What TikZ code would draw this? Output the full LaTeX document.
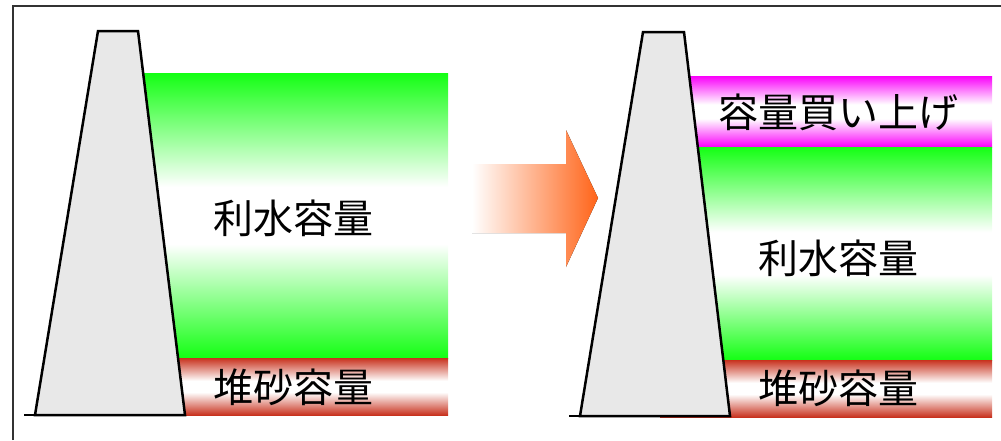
\documentclass[tikz,border=0pt]{standalone}
\usepackage{fontspec}
\usepackage{tikz}
\usetikzlibrary{positioning}
\newfontfamily\jp{Noto Sans CJK JP}
\definecolor{water}{RGB}{20,255,20}
\definecolor{sand}{RGB}{200,50,30}
\definecolor{buy}{RGB}{250,0,250}
\definecolor{arr}{RGB}{255,100,25}
\definecolor{dam}{RGB}{232,232,232}
\colorlet{bandc}{water}
\pgfdeclareverticalshading[bandc]{bandshade}{100bp}{color(0bp)=(bandc);
  color(25bp)=(bandc); color(45bp)=(white); color(55bp)=(white);
  color(75bp)=(bandc); color(100bp)=(bandc)}

\begin{document}
\begin{tikzpicture}[x=1pt,y=-1pt,
    every node/.style={font=\jp\fontsize{40}{40}\selectfont,inner sep=0pt},
    damwall/.style={draw=black,line width=2.5pt,fill=dam,line join=miter},
    band/.style={/utils/exec={\colorlet{bandc}{#1}},shade,shading=bandshade}]
    \useasboundingbox (0,0) rectangle (1001,440);
    % frame
    \draw[line width=2pt,black!80] (13,440) -- (13,6) -- (1001,6);
    % before
    \path[band=water] (120,73) rectangle (448,358);
    \path[band=sand] (120,358) rectangle (448,415);
    \draw[line width=1.5pt] (24,415) -- (35,415);
    \draw[damwall] (35,415) -- (98,31) -- (138,31) -- (185,415) -- cycle;
    \node (riL) at (293,218) {利水容量};
    \node (taL) at (293,387) {堆砂容量};
    % arrow
    \fill[left color=white,right color=arr] (472,164) -- (566,164) -- (566,130)
      -- (598,198) -- (566,267) -- (566,233) -- (472,233) -- cycle;
    % after
    \path[band=buy] (660,76) rectangle (992,147);
    \path[band=water] (660,147) rectangle (992,360);
    \path[band=sand] (660,360) rectangle (992,417);
    \draw[line width=1.5pt] (569,416) -- (580,416);
    \draw[damwall] (580,416) -- (643,32) -- (684,32) -- (730,416) -- cycle;
    \node (kaR) at (838,112) {容量買い上げ};
    \node (riR) at (838,258) {利水容量};
    \node (taR) at (838,388) {堆砂容量};
\end{tikzpicture}
\end{document}
